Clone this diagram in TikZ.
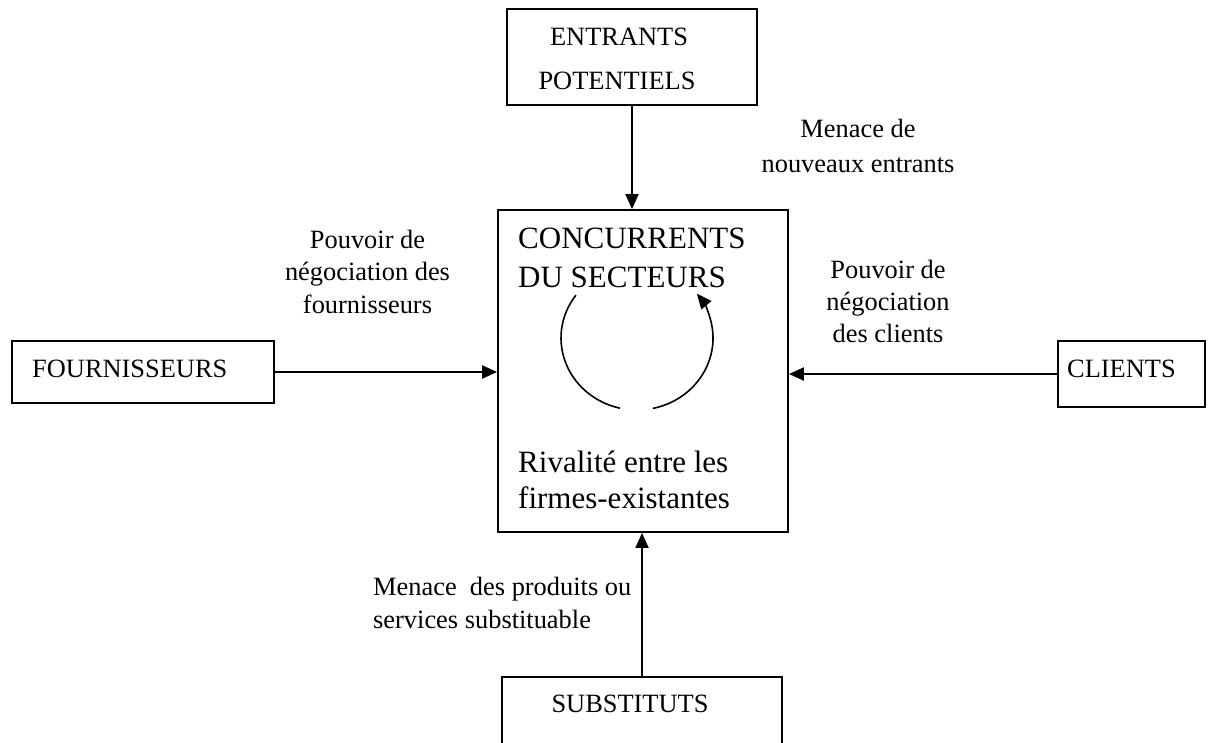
\documentclass[tikz,border=0pt]{standalone}
\usepackage{fontspec}
\setmainfont{Liberation Serif}
\usetikzlibrary{arrows.meta}
\begin{document}
\begin{tikzpicture}[x=1pt,y=-1pt,
  box/.style={draw, line width=1.8pt, inner sep=0pt},
  txt/.style={inner sep=0pt, font=\fontsize{26.4}{32}\selectfont},
  big/.style={inner sep=0pt, font=\fontsize{31}{38}\selectfont},
  arr/.style={line width=2pt, -{Triangle[length=15pt,width=13pt]}},
  loop/.style={line width=1.6pt}]
\clip (0,0) rectangle (1209,742);
\fill[white] (0,0) rectangle (1209,742);

% boxes
\node[box, minimum width=250pt, minimum height=96pt]  (ent)  at (632,57) {};
\node[box, minimum width=290pt, minimum height=322pt] (conc) at (643,371) {};
\node[box, minimum width=262pt, minimum height=62pt]  (four) at (143,372) {};
\node[box, minimum width=147pt, minimum height=66pt]  (cli)  at (1131.5,374) {};
\node[box, minimum width=280pt, minimum height=124pt] (sub)  at (642,739) {};

% box texts
\node[txt, anchor=base] (t-ent1) at (619,45) {ENTRANTS};
\node[txt, anchor=base] (t-ent2) at (617,89) {POTENTIELS};
\node[txt, anchor=base west] (t-four) at (32,377) {FOURNISSEURS};
\node[txt, anchor=base west] (t-cli) at (1067,377) {CLIENTS};
\node[txt, anchor=base] (t-sub) at (630,712) {SUBSTITUTS};

\node[big, anchor=base west] (c1) at (518,248) {CONCURRENTS};
\node[big, anchor=base west] (c2) at (518,287) {DU SECTEURS};
\node[big, anchor=base west] (c3) at (518,472) {Rivalité entre les};
\node[big, anchor=base west] (c4) at (518,508) {firmes-existantes};

% rivalry loop
\coordinate (rot) at (637,338);
\draw[loop] ([shift={(143.5:76pt and 72pt)}]rot)
  arc[start angle=143.5, end angle=257, x radius=76pt, y radius=72pt];
\draw[loop, -{Triangle[length=15pt,width=13pt]}] ([shift={(282:76pt and 72pt)}]rot)
  arc[start angle=282, end angle=398, x radius=76pt, y radius=72pt];

% forces
\draw[arr] (ent.south) -- (ent.south |- conc.north);
\draw[arr] (sub.north) -- (sub.north |- conc.south);
\draw[arr] (four.east) -- (four.east -| conc.west);
\draw[arr] (cli.west) -- (cli.west -| conc.east);

% force labels
\node[txt, anchor=base] (m1) at (858,137) {Menace de};
\node[txt, anchor=base] (m2) at (858,172) {nouveaux entrants};

\node[txt, anchor=base] (f1) at (367.5,248) {Pouvoir de};
\node[txt, anchor=base] (f2) at (367.5,280) {négociation des};
\node[txt, anchor=base] (f3) at (367.5,313) {fournisseurs};

\node[txt, anchor=base] (k1) at (888,278) {Pouvoir de};
\node[txt, anchor=base] (k2) at (888,310) {négociation};
\node[txt, anchor=base] (k3) at (888,342) {des clients};

\node[txt, anchor=base west] (s1) at (373,595) {Menace\ \ des produits ou};
\node[txt, anchor=base west] (s2) at (373,628) {services substituable};
\end{tikzpicture}
\end{document}
